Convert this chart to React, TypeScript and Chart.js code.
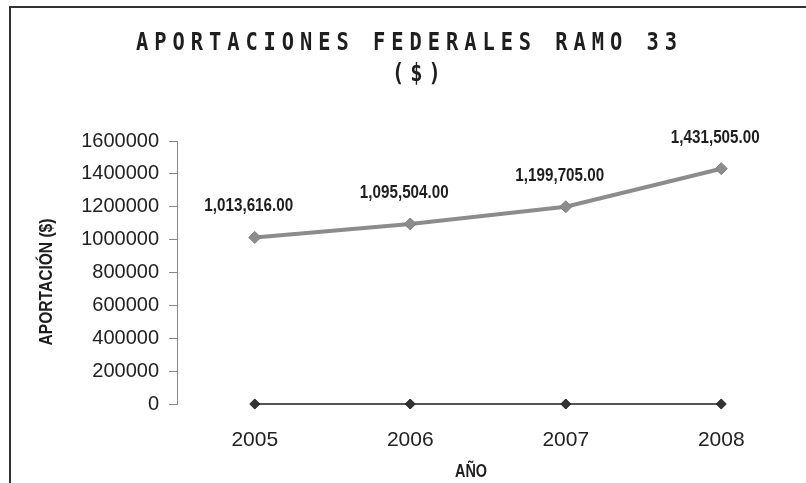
import React, { useEffect, useRef } from 'react';
import { Chart, registerables } from 'chart.js';

Chart.register(...registerables);

const years = ['2005', '2006', '2007', '2008'];
const aportaciones = [1013616, 1095504, 1199705, 1431505];
const baseline = [0, 0, 0, 0];
const titleText = 'APORTACIONES FEDERALES RAMO 33';
const subtitleText = '($)';
const yTitle = 'APORTACIÓN ($)';
const xTitle = 'AÑO';

const fmt = (v: number) =>
  v.toLocaleString('en-US', { minimumFractionDigits: 2, maximumFractionDigits: 2 });

const labelFont = 'bold 19px "Liberation Sans", Arial, sans-serif';
const titleFont = 'bold 24px "DejaVu Sans Mono", monospace';

function drawText(
  ctx: CanvasRenderingContext2D,
  text: string,
  x: number,
  y: number,
  font: string,
  sx: number,
  opts: { rot?: number; align?: CanvasTextAlign; base?: CanvasTextBaseline; ls?: string; color?: string } = {}
) {
  ctx.save();
  ctx.translate(x, y);
  if (opts.rot) ctx.rotate(opts.rot);
  ctx.scale(sx, 1);
  ctx.font = font;
  (ctx as any).letterSpacing = opts.ls || '0px';
  ctx.fillStyle = opts.color || '#1e1e1e';
  ctx.textAlign = opts.align || 'center';
  ctx.textBaseline = opts.base || 'alphabetic';
  ctx.fillText(text, 0, 0);
  ctx.restore();
}

const overlay = {
  id: 'overlay',
  afterDatasetsDraw(chart: any) {
    const ctx = chart.ctx as CanvasRenderingContext2D;
    const meta = chart.getDatasetMeta(0);
    meta.data.forEach((pt: any, i: number) => {
      drawText(ctx, fmt(aportaciones[i]), pt.x - 6, pt.y - 26, labelFont, 0.8);
    });
    drawText(ctx, titleText, 136, 50, titleFont, 0.85, { align: 'left', ls: '7px' });
    drawText(ctx, subtitleText, 392, 81, titleFont, 0.85, { align: 'left', ls: '7px' });
    drawText(ctx, yTitle, 47, 282, labelFont, 0.82, { rot: -Math.PI / 2, base: 'middle' });
    drawText(ctx, xTitle, 471, 477, labelFont, 0.76);
  },
};

export default function App() {
  const ref = useRef<HTMLCanvasElement>(null);
  useEffect(() => {
    const family = '"Liberation Sans", Arial, sans-serif';
    const chart = new Chart(ref.current as HTMLCanvasElement, {
      type: 'line',
      data: {
        labels: years,
        datasets: [
          {
            data: aportaciones,
            borderColor: '#8c8c8c',
            backgroundColor: '#8c8c8c',
            borderWidth: 4,
            pointStyle: 'rectRot',
            pointRadius: 6,
            pointBorderWidth: 1,
            pointBorderColor: '#7f7f7f',
            pointBackgroundColor: '#8c8c8c',
            tension: 0,
            clip: false,
          },
          {
            data: baseline,
            borderColor: '#555',
            backgroundColor: '#333',
            borderWidth: 2,
            pointStyle: 'rectRot',
            pointRadius: 5,
            pointBorderWidth: 1,
            pointBorderColor: '#222',
            pointBackgroundColor: '#333',
            tension: 0,
            clip: false,
          },
        ],
      },
      options: {
        responsive: false,
        animation: false,
        layout: { padding: { top: 141, right: 3, bottom: 0, left: 0 } },
        plugins: {
          legend: { display: false },
          tooltip: { enabled: false },
          title: { display: false },
        },
        scales: {
          x: {
            offset: true,
            grid: { display: false, drawTicks: false },
            border: { display: false },
            ticks: { padding: 24, color: '#222', font: { family, size: 21 } },
            afterFit: (s: any) => {
              s.height = 79;
            },
          },
          y: {
            min: 0,
            max: 1600000,
            ticks: {
              stepSize: 200000,
              padding: 10,
              color: '#222',
              font: { family, size: 20 },
              callback: (v: any) => String(v),
            },
            grid: { drawOnChartArea: false, drawTicks: true, tickLength: 8, color: '#888' },
            border: { display: true, color: '#888', width: 1 },
            afterFit: (s: any) => {
              s.width = 177;
            },
          },
        },
      } as any,
      plugins: [overlay],
    });
    return () => chart.destroy();
  }, []);

  return (
    <div
      style={{
        position: 'fixed',
        left: 0,
        top: 0,
        width: 806,
        height: 483,
        overflow: 'hidden',
        background: '#fff',
      }}
    >
      <div
        style={{
          position: 'absolute',
          left: 9,
          top: 6,
          width: 1000,
          height: 1000,
          border: '2px solid #333',
        }}
      />
      <canvas
        ref={ref}
        width={806}
        height={483}
        style={{ position: 'absolute', left: 0, top: 0, display: 'block' }}
      />
    </div>
  );
}
